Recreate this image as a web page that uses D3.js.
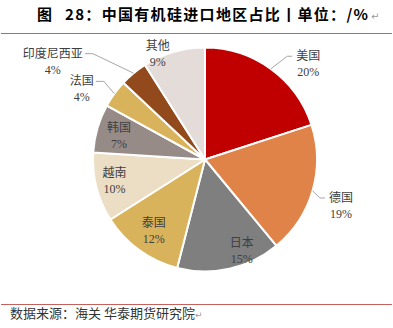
<!DOCTYPE html>
<html>
<head>
<meta charset="utf-8">
<script src="https://cdn.jsdelivr.net/npm/d3@7"></script>
<style>
  html, body { margin: 0; padding: 0; background: #fff; }
  svg { display: block; }
</style>
</head>
<body>
<svg id="chart" width="393" height="328"></svg>
<script>
// Import share of organosilicon by origin (%)
const regions = ["美国", "德国", "日本", "泰国", "越南", "韩国", "法国", "印度尼西亚", "其他"];
const shares  = [20, 19, 15, 12, 10, 7, 4, 4, 9];
const colors  = ["#C00000", "#DF8349", "#7F7F7F", "#D9B35B", "#EBDEC5", "#978B88", "#D8B35C", "#924A1D", "#E4DCD9"];

// Label placement: radius (as a fraction of the pie radius) and angle in degrees clockwise from 12 o'clock
const labelLayout = {
  "美国":       { r: 1.26, a: 47,    leader: true },
  "德国":       { r: 1.28, a: 108.5, leader: true },
  "日本":       { r: 0.875, a: 158 },
  "泰国":       { r: 0.78, a: 216 },
  "越南":       { r: 0.83, a: 257 },
  "韩国":       { r: 0.80, a: 286 },
  "法国":       { r: 1.27, a: 300,   leader: true },
  "印度尼西亚": { r: 1.62, a: 303,   leader: true },
  "其他":       { r: 1.04, a: 336 }
};

const svg = d3.select("#chart");
const W = 393, H = 328;
const cx = 205, cy = 159.5, R = 112;
const ruleColor = "#C5605A";
const labelFont = "'Liberation Serif', 'Noto Sans CJK SC', serif";

// Title
const titleFont = "'Noto Sans CJK SC', sans-serif";
svg.append("text")
  .attr("x", 37).attr("y", 20)
  .attr("font-family", titleFont).attr("font-weight", "bold").attr("font-size", 15)
  .attr("fill", "#000")
  .text("图");
svg.append("text")
  .attr("x", 65).attr("y", 20)
  .attr("font-family", titleFont).attr("font-weight", "bold").attr("font-size", 15)
  .attr("fill", "#000")
  .attr("textLength", 303).attr("lengthAdjust", "spacing")
  .text("28：中国有机硅进口地区占比丨单位：/%");
svg.append("text")
  .attr("x", 371).attr("y", 20)
  .attr("font-family", "'DejaVu Sans', sans-serif").attr("font-size", 10)
  .attr("fill", "#9a9a9a")
  .text("↵");

// Rules above and below the chart area
svg.append("line").attr("x1", 1).attr("x2", W - 1).attr("y1", 33.5).attr("y2", 33.5)
  .attr("stroke", ruleColor).attr("stroke-width", 1);
svg.append("line").attr("x1", 1).attr("x2", W - 1).attr("y1", 304.5).attr("y2", 304.5)
  .attr("stroke", ruleColor).attr("stroke-width", 1);

// Source note
const src = svg.append("text")
  .attr("x", 10).attr("y", 318)
  .attr("font-family", "'Noto Sans CJK SC', sans-serif")
  .attr("font-size", 13)
  .attr("fill", "#333");
src.append("tspan").text("数据来源：海关 华泰期货研究院");
src.append("tspan").attr("font-size", 9).attr("fill", "#9a9a9a")
  .attr("font-family", "'DejaVu Sans', sans-serif").text("↵");

// Pie
const data = regions.map((name, i) => ({ name, value: shares[i], color: colors[i] }));
const pie = d3.pie().value(d => d.value).sort(null);
const arc = d3.arc().innerRadius(0).outerRadius(R);
const arcs = pie(data);

const g = svg.append("g").attr("transform", `translate(${cx},${cy})`);
g.selectAll("path.slice")
  .data(arcs)
  .join("path")
  .attr("class", "slice")
  .attr("d", arc)
  .attr("fill", d => d.data.color)
  .attr("stroke", "#fff")
  .attr("stroke-width", 2)
  .attr("stroke-linejoin", "round");

// Labels and leader lines
const polar = (rad, deg) => {
  const t = deg * Math.PI / 180;
  return [rad * Math.sin(t), -rad * Math.cos(t)];
};

arcs.forEach(d => {
  const lay = labelLayout[d.data.name];
  const [lx, ly] = polar(R * lay.r, lay.a);
  const lbl = g.append("g");
  const nameText = lbl.append("text")
    .attr("x", lx).attr("y", ly - 3)
    .attr("text-anchor", "middle")
    .attr("font-family", labelFont)
    .attr("font-size", 12)
    .attr("fill", "#404040")
    .text(d.data.name);
  lbl.append("text")
    .attr("x", lx).attr("y", ly + 13)
    .attr("text-anchor", "middle")
    .attr("font-family", labelFont)
    .attr("font-size", 12)
    .attr("fill", "#404040")
    .text(d.data.value + "%");

  if (lay.leader) {
    const mid = (d.startAngle + d.endAngle) / 2 * 180 / Math.PI;
    const [sx, sy] = polar(R, mid);
    const half = nameText.node().getComputedTextLength() / 2;
    const right = sx > 0;
    const yLine = ly - 7;
    const ex = right ? lx - half - 4 : lx + half + 2;
    const kx = right ? ex - 5 : ex + 8;
    g.append("polyline")
      .attr("points", [[sx, sy], [kx, yLine], [ex, yLine]].map(p => p.join(",")).join(" "))
      .attr("fill", "none")
      .attr("stroke", "#A6A6A6")
      .attr("stroke-width", 1);
  }
});
</script>
</body>
</html>
